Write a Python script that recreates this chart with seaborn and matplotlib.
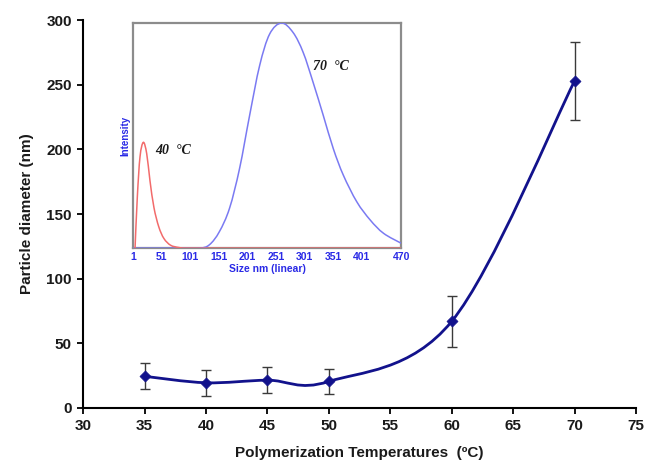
import numpy as np
import pandas as pd
import matplotlib
matplotlib.use("Agg")
import matplotlib.pyplot as plt
from matplotlib.path import Path
from matplotlib.patches import PathPatch
import seaborn as sns

sns.set_theme(style="ticks")
plt.rcParams['font.family'] = ['Liberation Sans', 'DejaVu Sans']

# main chart: particle size vs polymerization temperature
temps = [35, 40, 45, 50, 60, 70]
diam = [24.5, 19.5, 21.5, 20.5, 67, 253]
diam_err = [10, 10, 10, 10, 20, 30]

# inset: DLS size distributions
size_40 = [4.5, 8.5, 13.2, 19, 24.9, 30.6, 37.6, 46, 55, 66.7, 81, 95, 150, 250, 350, 470]
int_40 = [0, 0.228, 0.406, 0.47, 0.42, 0.30, 0.18, 0.095, 0.043, 0.013, 0.003, 0, 0, 0, 0, 0]
size_70 = [1, 40, 80, 117, 134.6, 152, 169.8, 187.4, 205, 222.5, 240, 260.7, 281, 298.6,
           316, 333.8, 351.4, 369, 392.5, 416, 439.3, 470]
int_70 = [0, 0, 0, 0, 0.015, 0.073, 0.177, 0.354, 0.59, 0.811, 0.951, 1.0, 0.958, 0.87,
          0.737, 0.59, 0.442, 0.324, 0.206, 0.125, 0.066, 0.022]
size_ticks = [1, 51, 101, 151, 201, 251, 301, 351, 401, 470]

df = pd.DataFrame({'T': temps, 'D': diam, 'err': diam_err})


def smooth_path(x, y, t=1/6):
    # excel-like smoothed line: cubic bezier through the points
    pts = np.column_stack([x, y]).astype(float)
    n = len(pts)
    verts = [pts[0]]
    codes = [Path.MOVETO]
    for i in range(n - 1):
        p0 = pts[max(i - 1, 0)]
        p1 = pts[i]
        p2 = pts[i + 1]
        p3 = pts[min(i + 2, n - 1)]
        verts += [p1 + (p2 - p0) * t, p2 - (p3 - p1) * t, p2]
        codes += [Path.CURVE4] * 3
    return Path(verts, codes)


fig = plt.figure(figsize=(6.49, 4.70), dpi=100)
ax = fig.add_axes([0.128, 0.132, 0.852, 0.825])

navy = '#12128c'
ax.errorbar(df['T'], df['D'], yerr=df['err'], fmt='none', ecolor='#3a3a3a',
            elinewidth=1, capsize=3.5, capthick=1, zorder=2)
ax.add_patch(PathPatch(smooth_path(df['T'], df['D']), facecolor='none',
                       edgecolor=navy, lw=2, zorder=3))
sns.scatterplot(data=df, x='T', y='D', marker='D', s=32, color=navy,
                edgecolor=navy, ax=ax, zorder=4)

ax.set_xlim(30, 75)
ax.set_ylim(0, 300)
ax.set_xticks(range(30, 76, 5))
ax.set_yticks(range(0, 301, 50))
sns.despine(ax=ax)
for s in ['left', 'bottom']:
    ax.spines[s].set_linewidth(1.5)
    ax.spines[s].set_color('black')
ax.tick_params(direction='out', length=4, width=1.3, color='black',
               labelsize=11, labelcolor='#1a1a1a', pad=4)
for lab in ax.get_xticklabels() + ax.get_yticklabels():
    lab.set_fontweight('bold')
ax.set_xlabel('Polymerization Temperatures  (ºC)', fontsize=11, fontweight='bold',
              color='#1a1a1a', labelpad=9)
ax.set_ylabel('Particle diameter (nm)', fontsize=11, fontweight='bold',
              color='#1a1a1a', labelpad=9)

# inset
ins = fig.add_axes([0.205, 0.472, 0.413, 0.479])
blue = '#7a7af2'
red = '#f26b6b'
ins.add_patch(PathPatch(smooth_path(size_70, int_70), facecolor='none',
                        edgecolor=blue, lw=1.1, zorder=3))
ins.add_patch(PathPatch(smooth_path(size_40, int_40), facecolor='none',
                        edgecolor=red, lw=1.1, zorder=4))
ins.set_xlim(1, 470)
ins.set_ylim(0, 1.0)
ins.set_xticks(size_ticks)
ins.set_yticks([])
ins.tick_params(axis='x', length=0, pad=3, labelsize=7.5, labelcolor='#2a2ae6')
for lab in ins.get_xticklabels():
    lab.set_fontweight('bold')
    lab.set_family(['Liberation Sans Narrow', 'Liberation Sans'])
for s in ins.spines.values():
    s.set_color('#8c8c8c')
    s.set_linewidth(1.6)
ins.set_xlabel('Size nm (linear)', fontsize=7.5, fontweight='bold', color='#2a2ae6',
               labelpad=1)
ins.set_ylabel('Intensity', fontsize=7, fontweight='bold', color='#2a2ae6', labelpad=2)
ins.text(39, 0.42, '40  °C', fontsize=10, fontweight='bold', style='italic',
         family='Liberation Serif', color='#1a1a1a')
ins.text(316, 0.79, '70  °C', fontsize=10, fontweight='bold', style='italic',
         family='Liberation Serif', color='#1a1a1a')

fig.savefig('out.png', dpi=100)
